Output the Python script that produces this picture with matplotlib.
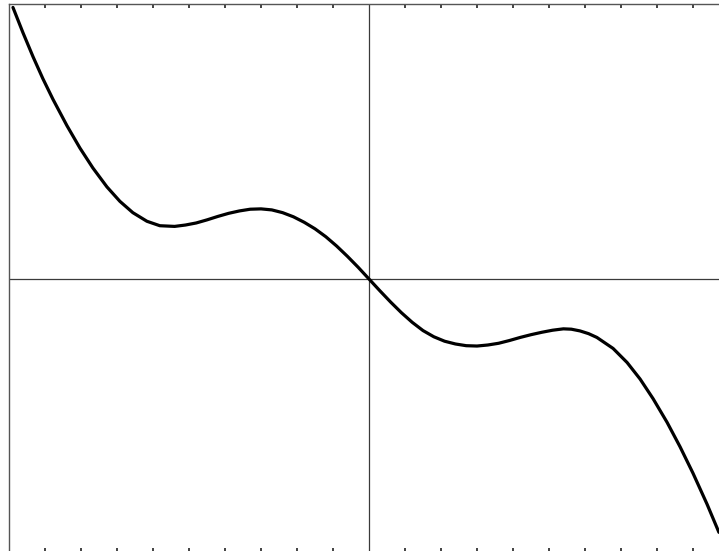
import numpy as np
import matplotlib.pyplot as plt

# curve points (x in tick units, y in same-ish units)
x_vals = [-9.89, -9.61, -9.33, -9.06, -8.78, -8.39, -8.03, -7.67, -7.28, -6.92,
          -6.56, -6.17, -5.81, -5.4, -5.1, -4.8, -4.5, -4.2, -3.9, -3.6,
          -3.3, -3.0, -2.7, -2.4, -2.1, -1.8, -1.5, -1.2, -0.9, -0.6,
          -0.3, 0.0, 0.3, 0.6, 0.9, 1.2, 1.5, 1.8, 2.1, 2.4,
          2.7, 3.0, 3.3, 3.6, 3.9, 4.2, 4.5, 4.8, 5.1, 5.4,
          5.62, 5.86, 6.1, 6.33, 6.78, 7.17, 7.53, 7.89, 8.28, 8.64,
          9.00, 9.39, 9.72]
y_vals = [7.90, 7.16, 6.46, 5.83, 5.23, 4.46, 3.81, 3.23, 2.68, 2.26,
          1.93, 1.68, 1.55, 1.53, 1.57, 1.63, 1.72, 1.82, 1.91, 1.98,
          2.03, 2.04, 2.01, 1.93, 1.81, 1.65, 1.46, 1.23, 0.96, 0.66,
          0.34, 0.00, -0.34, -0.67, -0.98, -1.26, -1.50, -1.68, -1.81, -1.89,
          -1.94, -1.95, -1.92, -1.87, -1.79, -1.70, -1.62, -1.55, -1.49, -1.45,
          -1.46, -1.51, -1.59, -1.70, -2.02, -2.43, -2.91, -3.48, -4.17, -4.88,
          -5.65, -6.55, -7.37]

x_ticks = [-9, -8, -7, -6, -5, -4, -3, -2, -1, 1, 2, 3, 4, 5, 6, 7, 8, 9]

W, H = 719, 551
fig = plt.figure(figsize=(W / 100, H / 100), dpi=100)
# axes goes a bit past the right and bottom edge of the picture
ax = fig.add_axes([9 / W, 1 - 552 / H, 720 / W, 548 / H])

ax.set_xlim(-10, 10)
ax.set_ylim(-273 / 34.375, 275 / 34.375)

# x and y axis lines through the origin
ax.axhline(0, color="#3a3a3a", lw=0.9, zorder=1)
ax.axvline(0, color="#3a3a3a", lw=0.9, zorder=1)

ax.plot(x_vals, y_vals, color="black", lw=2.3, solid_joinstyle="round",
        solid_capstyle="round", zorder=3)

for side in ["top", "left"]:
    ax.spines[side].set_color("#555555")
    ax.spines[side].set_linewidth(1.0)
ax.spines["right"].set_visible(False)
ax.spines["bottom"].set_visible(False)

ax.set_xticks(x_ticks)
ax.set_yticks([])
ax.tick_params(axis="x", direction="in", length=3, width=1.2, color="#222222",
               top=True, bottom=True, labeltop=False, labelbottom=False)

fig.savefig("out.png", dpi=100)
